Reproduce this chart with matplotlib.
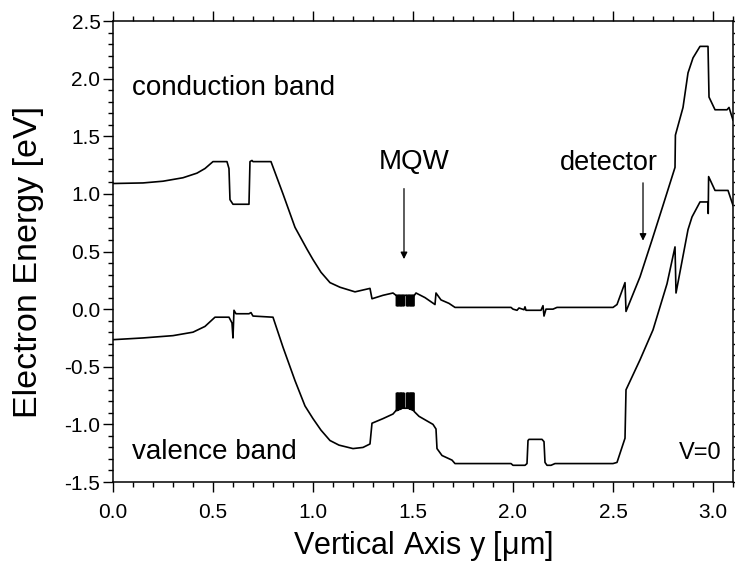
import numpy as np
import matplotlib.pyplot as plt
from matplotlib.ticker import MultipleLocator

plt.rcParams['font.family'] = ['Liberation Sans', 'DejaVu Sans']

# Banda de conducao
cb_x = [0.0, 0.15, 0.25, 0.35, 0.42, 0.46, 0.50, 0.57, 0.58, 0.585, 0.60, 0.68,
        0.685, 0.695, 0.70, 0.79, 0.85, 0.91, 0.97, 1.0, 1.04, 1.085, 1.135, 1.21,
        1.285, 1.295, 1.35, 1.40, 1.415]
cb_y = [1.09, 1.095, 1.11, 1.14, 1.18, 1.22, 1.28, 1.28, 1.22, 0.95, 0.91, 0.91,
        1.28, 1.29, 1.28, 1.28, 1.0, 0.71, 0.52, 0.43, 0.32, 0.23, 0.19, 0.15,
        0.18, 0.09, 0.12, 0.14, 0.12]
cb_x2 = [1.507, 1.515, 1.56, 1.61, 1.615, 1.64, 1.68, 1.71, 1.99, 2.0, 2.02, 2.03,
         2.055, 2.06, 2.065, 2.14, 2.15, 2.155, 2.165, 2.2, 2.22, 2.5, 2.52, 2.56,
         2.565, 2.635, 2.695, 2.75, 2.81, 2.812, 2.85, 2.875, 2.90, 2.935, 2.975,
         2.98, 3.01, 3.07, 3.08, 3.1]
cb_y2 = [0.12, 0.14, 0.10, 0.04, 0.14, 0.08, 0.05, 0.015, 0.015, 0.0, -0.01, 0.01,
         -0.005, 0.02, -0.01, -0.01, 0.03, -0.06, 0.0, 0.0, 0.015, 0.015, 0.04, 0.23,
         -0.02, 0.28, 0.6, 0.9, 1.23, 1.51, 1.75, 2.05, 2.18, 2.28, 2.28,
         1.84, 1.73, 1.73, 1.75, 1.64]

# Banda de valencia
vb_x = [0.0, 0.15, 0.3, 0.4, 0.46, 0.51, 0.58, 0.595, 0.60, 0.605, 0.615, 0.68,
        0.69, 0.70, 0.80, 0.85, 0.91, 0.96, 1.0, 1.04, 1.085, 1.13, 1.2, 1.25,
        1.285, 1.295, 1.35, 1.40, 1.415]
vb_y = [-0.265, -0.25, -0.23, -0.2, -0.15, -0.07, -0.07, -0.12, -0.25, -0.01, -0.04, -0.04,
        -0.03, -0.06, -0.07, -0.33, -0.62, -0.84, -0.95, -1.05, -1.14, -1.18, -1.21, -1.2,
        -1.17, -0.99, -0.95, -0.91, -0.88]
vb_x2 = [1.507, 1.53, 1.55, 1.6, 1.615, 1.62, 1.645, 1.695, 1.71, 1.99, 2.0, 2.06,
         2.07, 2.075, 2.08, 2.145, 2.155, 2.16, 2.17, 2.19, 2.21, 2.5, 2.52, 2.56,
         2.565, 2.635, 2.70, 2.77, 2.81, 2.815, 2.875, 2.895, 2.935, 2.975, 2.976,
         2.978, 3.01, 3.075, 3.1]
vb_y2 = [-0.89, -0.93, -0.95, -1.0, -1.04, -1.21, -1.27, -1.31, -1.34, -1.34, -1.355, -1.355,
         -1.34, -1.14, -1.13, -1.13, -1.15, -1.33, -1.355, -1.355, -1.34, -1.34, -1.33, -1.12,
         -0.70, -0.44, -0.18, 0.22, 0.54, 0.14, 0.69, 0.80, 0.93, 0.93, 0.83,
         1.15, 1.03, 1.03, 0.90]

# Pocos quanticos (MQW)
well_x = [1.419, 1.426, 1.433, 1.440, 1.447, 1.454, 1.469, 1.476, 1.483, 1.490, 1.497, 1.503]
cb_barrier, cb_well = 0.12, 0.03
vb_barrier = [-0.88, -0.875, -0.87, -0.865, -0.86, -0.86, -0.86, -0.86, -0.865, -0.87, -0.875, -0.88]
vb_well = -0.73


def com_pocos(x1, y1, x2, y2, barreira, poco):
    xs, ys = list(x1), list(y1)
    for i, c in enumerate(well_x):
        b = barreira[i] if isinstance(barreira, list) else barreira
        xs += [c - 0.002, c - 0.002, c + 0.002, c + 0.002]
        ys += [b, poco, poco, b]
    return xs + list(x2), ys + list(y2)


cbx, cby = com_pocos(cb_x, cb_y, cb_x2, cb_y2, cb_barrier, cb_well)
vbx, vby = com_pocos(vb_x, vb_y, vb_x2, vb_y2, vb_barrier, vb_well)

fig = plt.figure(figsize=(7.35, 5.68), dpi=100)
ax = fig.add_axes([0.1537, 0.1514, 0.8436, 0.8116])
ax.plot(cbx, cby, color='black', linewidth=1.2)
ax.plot(vbx, vby, color='black', linewidth=1.2)

ax.set_xlim(0, 3.1)
ax.set_ylim(-1.5, 2.5)
ax.xaxis.set_major_locator(MultipleLocator(0.5))
ax.xaxis.set_minor_locator(MultipleLocator(0.1))
ax.yaxis.set_major_locator(MultipleLocator(0.5))
ax.yaxis.set_minor_locator(MultipleLocator(0.1))
ax.xaxis.set_major_formatter(plt.FormatStrFormatter('%.1f'))
ax.yaxis.set_major_formatter(plt.FormatStrFormatter('%.1f'))
ax.tick_params(which='both', direction='out', top=True, right=True, width=1.0)
ax.tick_params(which='major', length=7, labelsize=15)
ax.tick_params(axis='x', which='major', pad=8)
ax.tick_params(axis='y', which='major', pad=2)
ax.tick_params(which='minor', length=3.5)
for s in ax.spines.values():
    s.set_linewidth(1.1)

ax.set_xlabel('Vertical Axis y [$\\mathregular{\\mu}$m]', fontsize=22, labelpad=5)
ax.set_ylabel('Electron Energy [eV]', fontsize=24.5)
ax.yaxis.set_label_coords(-0.112, 0.477)

ax.text(0.095, 1.92, 'conduction band', fontsize=20, va='center', ha='left')
ax.text(0.095, -1.24, 'valence band', fontsize=20, va='center', ha='left')
ax.text(1.505, 1.28, 'MQW', fontsize=20, va='center', ha='center')
ax.text(2.48, 1.27, 'detector', fontsize=19.5, va='center', ha='center')
ax.text(3.045, -1.25, 'V=0', fontsize=17, va='center', ha='right')

ax.annotate('', xy=(1.455, 0.41), xytext=(1.455, 1.07),
            arrowprops=dict(arrowstyle='-|>', color='black', lw=0.9, mutation_scale=10))
ax.annotate('', xy=(2.65, 0.57), xytext=(2.65, 1.12),
            arrowprops=dict(arrowstyle='-|>', color='black', lw=0.9, mutation_scale=10))

fig.savefig('out.png', dpi=100)
